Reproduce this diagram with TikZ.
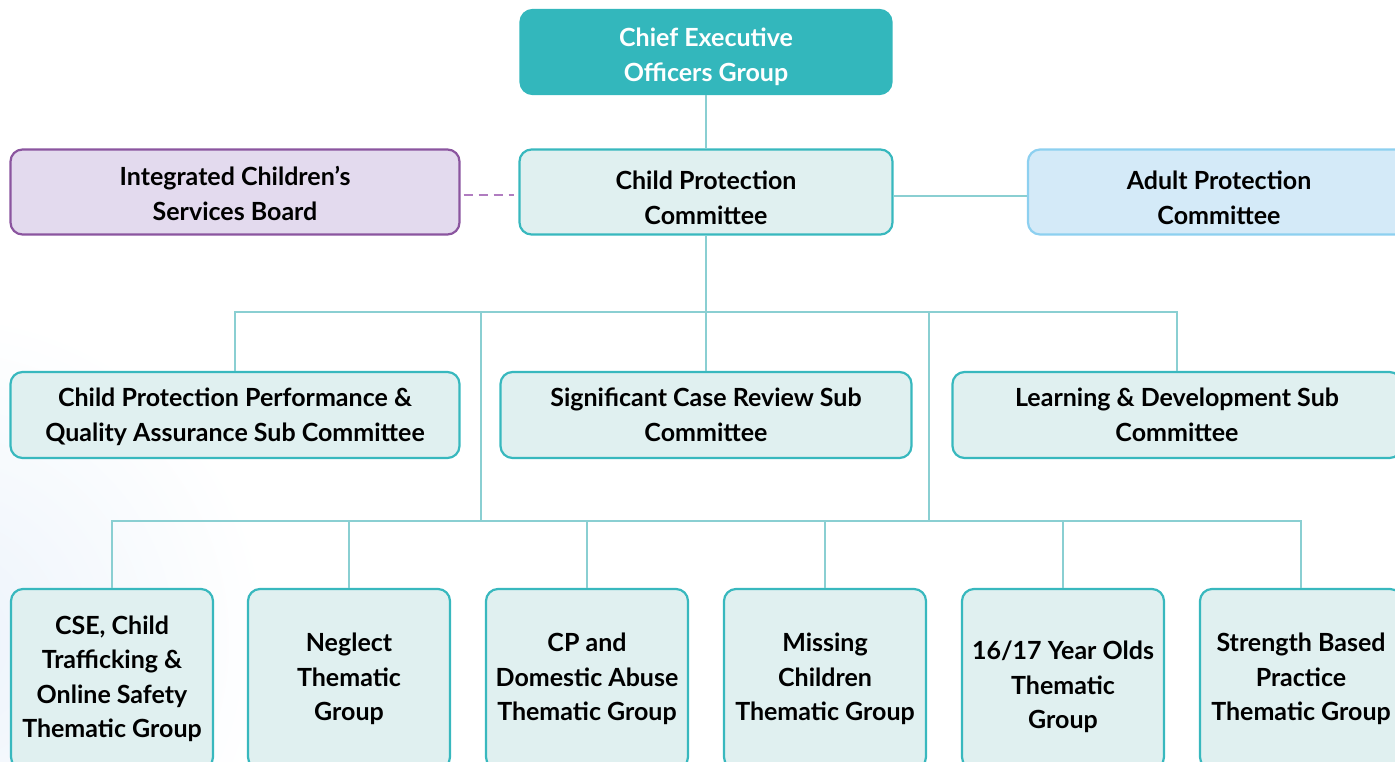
\documentclass[tikz,border=0pt]{standalone}
\usepackage{fontspec}
\setmainfont{Lato}
\usepackage{tikz}
\usetikzlibrary{positioning}
\definecolor{tealfill}{RGB}{51, 183, 188}
\definecolor{tealline}{RGB}{56, 184, 190}
\definecolor{pale}{RGB}{224, 240, 240}
\definecolor{wire}{RGB}{138, 207, 210}
\definecolor{lila}{RGB}{227, 218, 238}
\definecolor{plum}{RGB}{139, 85, 159}
\definecolor{dashpurple}{RGB}{176, 124, 192}
\definecolor{sky}{RGB}{212, 234, 248}
\definecolor{skyline}{RGB}{141, 208, 240}
\definecolor{glow}{RGB}{236, 243, 251}
\newcommand{\lift}[1]{\rule{0pt}{#1}}
\tikzset{
    cmte/.style={draw=tealline, fill=pale, line width=2.2pt, rounded corners=12pt, align=center, font=\fontsize{25}{34.5}\selectfont\bfseries, text=black, inner sep=0pt},
    chief/.style={cmte, draw=tealfill, fill=tealfill, text=white},
    board/.style={cmte, draw=plum, fill=lila},
    adult/.style={cmte, draw=skyline, fill=sky},
    grp/.style={cmte, minimum width=202pt, minimum height=180pt},
    conn/.style={-, wire, line width=2.2pt},
    link/.style={-, dashpurple, line width=2.2pt, dash pattern=on 9pt off 6pt},
}

\begin{document}
\begin{tikzpicture}[x=1pt, y=-1pt]
    \useasboundingbox (0,0) rectangle (1395,762);
    \clip (0,0) rectangle (1395,762);
    \shade [inner color=glow, outer color=white] (-60,640) circle (330);

    \node [chief, minimum width=371pt, minimum height=84pt] (ceo) at (706,52) {\lift{28.5pt}Chief Executive\\Officers Group};
    \node [cmte, minimum width=373pt, minimum height=85pt] (cpc) at (706,192) {\lift{30pt}Child Protection\\Committee};
    \node [board, minimum width=449pt, minimum height=85pt] (icsb) at (235,192) {\lift{22.5pt}Integrated Children’s\\Services Board};
    \node [adult, minimum width=382pt, minimum height=85pt] (apc) at (1219,192) {\lift{30pt}Adult Protection\\Committee};

    \node [cmte, minimum width=449pt, minimum height=86pt] (pqa) at (235,415) {\lift{22.5pt}Child Protection Performance \&\\Quality Assurance Sub Committee};
    \node [cmte, minimum width=411pt, minimum height=86pt] (scr) at (706,415) {Significant Case Review Sub\\Committee};
    \node [cmte, minimum width=449pt, minimum height=86pt] (ld) at (1177,415) {Learning \& Development Sub\\Committee};

    \node [grp] (cse) at (112,679) {CSE, Child\\Trafficking \&\\Online Safety\\Thematic Group};
    \node [grp] (neg) at (349,679) {Neglect\\Thematic\\Group};
    \node [grp] (cpda) at (587,679) {CP and\\Domestic Abuse\\Thematic Group};
    \node [grp] (miss) at (825,679) {Missing\\Children\\Thematic Group};
    \node [grp] (yo) at (1063,679) {\lift{34.5pt}16/17 Year Olds\\Thematic\\Group};
    \node [grp] (sbp) at (1301,679) {Strength Based\\Practice\\Thematic Group};

    \coordinate (bus1) at (706,312);
    \coordinate (j1) at (481,312);
    \coordinate (j2) at (929,312);
    \coordinate (k1) at (481,521);
    \coordinate (k2) at (929,521);

    \draw [conn] (ceo) -- (cpc);
    \draw [conn] ([yshift=-4pt]cpc.east) -- ([yshift=-4pt]apc.west);
    \draw [link, shorten <=3pt, shorten >=4pt] ([yshift=-3pt]icsb.east) -- ([yshift=-3pt]cpc.west);

    \draw [conn] (cpc.south) -- (bus1);
    \draw [conn] (pqa.north) |- (bus1);
    \draw [conn] (ld.north) |- (bus1);
    \draw [conn] (scr.north) -- (bus1);

    \draw [conn] (j1) -- (k1);
    \draw [conn] (j2) -- (k2);
    \draw [conn] (k1) -- (k2);
    \draw [conn] (cse.north) |- (k1);
    \draw [conn] (neg.north) |- (k1);
    \draw [conn] (cpda.north) |- (k1);
    \draw [conn] (miss.north) |- (k2);
    \draw [conn] (yo.north) |- (k2);
    \draw [conn] (sbp.north) |- (k2);
\end{tikzpicture}
\end{document}
